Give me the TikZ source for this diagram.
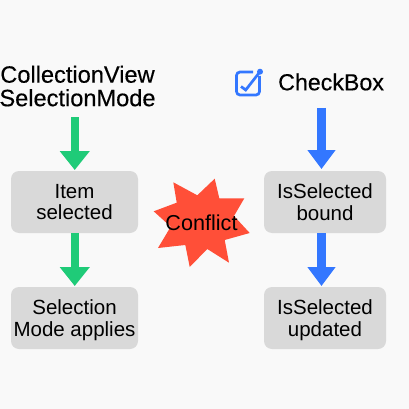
\documentclass[tikz,border=0pt]{standalone}
\usepackage{fontspec}
\setmainfont{Liberation Sans}
\newfontfamily\headf[FakeBold=0.35]{Liberation Sans}
\usetikzlibrary{arrows.meta}
\definecolor{bgc}{HTML}{F9F9F9}
\definecolor{boxc}{HTML}{D9D9D9}
\definecolor{greenc}{HTML}{1FCB78}
\definecolor{bluec}{HTML}{3377FF}
\definecolor{redc}{HTML}{FF4F38}
\tikzset{
  x=1pt,y=-1pt,
  stagebox/.style={fill=boxc,rounded corners=8pt,inner sep=0pt,align=center,font=\fontsize{20.5}{21.7}\selectfont,text=black,text depth=0pt},
  heading/.style={inner sep=0pt,align=center,font=\headf\fontsize{23.6}{23.5}\selectfont,text=black},
  greenarrow/.style={draw=greenc,line width=8.5pt,-{Triangle[length=19pt,width=29pt,fill=greenc]}},
  bluearrow/.style={draw=bluec,line width=8.5pt,-{Triangle[length=19pt,width=27pt,fill=bluec]}},
}
\begin{document}
\begin{tikzpicture}
\useasboundingbox (0,0) rectangle (409,409);
\fill[bgc] (0,0) rectangle (409,409);
\node[heading] (cv) at (77.5,86) {CollectionView\\SelectionMode};
\node[heading,anchor=west,font=\headf\fontsize{23.2}{25}\selectfont] (cb) at (278,82) {CheckBox};
\node[stagebox,minimum width=127pt,minimum height=62pt] (item) at (74.5,202) {Item\\selected};
\node[stagebox,minimum width=127pt,minimum height=62pt] (mode) at (74.5,318) {Selection\\Mode applies};
\node[stagebox,minimum width=122pt,minimum height=62pt] (bound) at (325,202) {IsSelected\\bound};
\node[stagebox,minimum width=122pt,minimum height=62pt] (upd) at (325,318) {IsSelected\\updated};
\coordinate (gs) at (74.75,117);
\coordinate (gt) at (74.75,170);
\coordinate (gt2) at (74.75,286);
\coordinate (bs) at (321.5,108);
\coordinate (bt) at (321.5,169);
\coordinate (bt2) at (321.5,286);
\draw[greenarrow] (gs) -- (gt);
\draw[greenarrow] (item.south -| gs) -- (gt2);
\draw[bluearrow] (bs) -- (bt);
\draw[bluearrow] (bound.south -| bs) -- (bt2);
\fill[redc] (173.3,182.3) -- (197.3,195.3) -- (214.7,178.7) -- (219.3,198.3) -- (244.3,198.3) -- (234,216) -- (249.7,233) -- (224.7,240) -- (229,262.7) -- (207.3,249) -- (189.7,267) -- (185.3,245) -- (158,248) -- (170.7,226.7) -- (153.7,211.3) -- (176.7,202.7) -- cycle;
\node[inner sep=0pt,font=\fontsize{21.6}{24}\selectfont] (conf) at (201.5,222.5) {Conflict};
\draw[bluec,line width=2.7pt,rounded corners=3.5pt] (253,72) -- (236.5,72) -- (236.5,95) -- (259.5,95) -- (259.5,76);
\draw[bluec,line width=2.7pt] (241,86.5) -- (245.7,90) -- (260,71.7);
\fill[bluec] (260,71.7) circle (3pt);
\end{tikzpicture}
\end{document}
